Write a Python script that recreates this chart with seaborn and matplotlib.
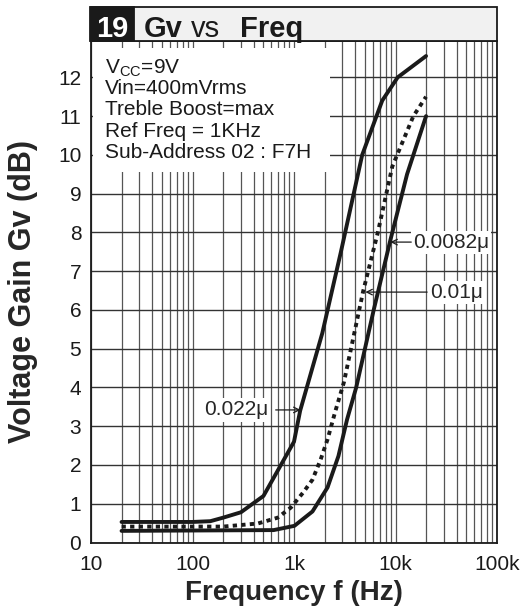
import numpy as np
import pandas as pd
import matplotlib
matplotlib.use('Agg')
import matplotlib.pyplot as plt
import seaborn as sns
from matplotlib.patches import Rectangle
from matplotlib.ticker import LogLocator, NullFormatter

# curve data (frequency in Hz, gain in dB)
freq_022 = [20, 100, 150, 200, 300, 500, 1000, 1150, 1900, 2900, 4700, 7400, 10500, 20000]
gain_022 = [0.53, 0.53, 0.55, 0.64, 0.78, 1.2, 2.6, 3.4, 5.4, 7.5, 10.0, 11.4, 12.0, 12.55]

freq_010 = [20, 200, 440, 690, 930, 1240, 1520, 1830, 2140, 2550, 3100, 4800, 6700, 9300, 15000, 20000]
gain_010 = [0.41, 0.41, 0.49, 0.64, 0.9, 1.3, 1.62, 2.14, 2.66, 3.38, 4.13, 6.48, 8.0, 9.7, 11.0, 11.5]

freq_0082 = [20, 630, 1010, 1520, 2140, 2740, 3330, 4100, 6100, 8900, 13000, 20000]
gain_0082 = [0.3, 0.32, 0.43, 0.8, 1.42, 2.23, 3.17, 4.0, 6.0, 7.8, 9.5, 11.0]

x_ticks = [10, 100, 1000, 10000, 100000]
x_tick_labels = ['10', '100', '1k', '10k', '100k']
y_ticks = list(range(13))

conditions = ['V$_{\\mathregular{CC}}$=9V', 'Vin=400mVrms', 'Treble Boost=max',
              'Ref Freq = 1KHz', 'Sub-Address 02 : F7H']

sns.set_style('white')
plt.rcParams['font.family'] = ['Liberation Sans', 'DejaVu Sans']
plt.rcParams['mathtext.fontset'] = 'custom'
plt.rcParams['mathtext.rm'] = 'Liberation Sans'

W, H = 523, 609
fig = plt.figure(figsize=(W / 100, H / 100), dpi=100)
ax = fig.add_axes([91 / W, (H - 542.5) / H, 406 / W, (542.5 - 41.3) / H])

df = pd.concat([
    pd.DataFrame({'f': freq_022, 'gv': gain_022, 'c': '0.022u'}),
    pd.DataFrame({'f': freq_010, 'gv': gain_010, 'c': '0.01u'}),
    pd.DataFrame({'f': freq_0082, 'gv': gain_0082, 'c': '0.0082u'}),
])

for name, ls in [('0.022u', '-'), ('0.0082u', '-'), ('0.01u', (0, (1.1, 1.1)))]:
    sub = df[df['c'] == name]
    sns.lineplot(data=sub, x='f', y='gv', ax=ax, color='#1a1a1a', lw=2.8,
                 linestyle=ls, sort=False, estimator=None, zorder=3)
for l in ax.lines:
    l.set_dash_capstyle('butt')
    l.set_solid_joinstyle('round')

ax.set_xscale('log')
ax.set_xlim(10, 100000)
ax.set_ylim(0, 12.93)
ax.set_xticks(x_ticks)
ax.set_xticklabels(x_tick_labels)
ax.xaxis.set_minor_locator(LogLocator(base=10, subs=range(2, 10)))
ax.xaxis.set_minor_formatter(NullFormatter())
ax.set_yticks(y_ticks)
ax.set_axisbelow(True)
ax.grid(which='both', axis='x', color='#555555', lw=0.9)
ax.grid(which='major', axis='y', color='#333333', lw=1.0)
ax.tick_params(which='both', length=0, labelsize=15, colors='#1a1a1a')
ax.tick_params(axis='x', pad=9)
ax.tick_params(axis='y', pad=7)
for s in ax.spines.values():
    s.set_color('#1a1a1a')
    s.set_linewidth(1.3)

ax.set_xlabel('Frequency f (Hz)', fontsize=20, fontweight='bold', labelpad=4)
ax.set_ylabel('Voltage Gain Gv (dB)', fontsize=22, fontweight='bold', labelpad=14)

# white panel behind the test conditions
ax.add_patch(Rectangle((2 / 406, (542.5 - 172) / 501.2), (330 - 93) / 406, 124 / 501.2,
                       transform=ax.transAxes, facecolor='white', edgecolor='none', zorder=1))
for i, t in enumerate(conditions):
    ax.text((105 - 91) / 406, (542.5 - (73 + 21.2 * i)) / 501.2, t, transform=ax.transAxes,
            fontsize=15, va='baseline', ha='left', color='#1a1a1a', zorder=4)

# curve labels
box = dict(facecolor='white', edgecolor='none', pad=1.5)
arrow = dict(arrowstyle='->', lw=0.9, color='#1a1a1a', shrinkA=0, shrinkB=0)
ax.text(555, 3.42, '0.022\u03bc', fontsize=15, ha='right', va='center', bbox=box, zorder=4)
ax.annotate('', xy=(1160, 3.42), xytext=(660, 3.42), arrowprops=arrow, zorder=4)
ax.text(14900, 7.75, '0.0082\u03bc', fontsize=15, ha='left', va='center', bbox=box, zorder=4,
        clip_on=False)
ax.annotate('', xy=(8900, 7.75), xytext=(14300, 7.75), arrowprops=arrow, zorder=4)
ax.text(22100, 6.46, '0.01\u03bc', fontsize=15, ha='left', va='center', bbox=box, zorder=4)
ax.annotate('', xy=(5050, 6.46), xytext=(20500, 6.46), arrowprops=arrow, zorder=4)

# title banner
fig.add_artist(Rectangle((91 / W, (H - 41.3) / H), 406 / W, 34.6 / H, transform=fig.transFigure,
                         facecolor='#f1f1f1', edgecolor='#1a1a1a', lw=1.3))
fig.add_artist(Rectangle((90 / W, (H - 41.3) / H), 44 / W, 34.6 / H, transform=fig.transFigure,
                         facecolor='#1a1a1a', edgecolor='#1a1a1a', lw=1.3))
base = (H - 37) / H
fig.text(112 / W, base, '19', color='white', fontsize=21, fontweight='bold', ha='center', va='baseline')
fig.text(163 / W, base, 'Gv', color='#1a1a1a', fontsize=21, fontweight='bold', ha='center', va='baseline')
fig.text(205 / W, base, 'vs', color='#1a1a1a', fontsize=21, ha='center', va='baseline')
fig.text(272 / W, base, 'Freq', color='#1a1a1a', fontsize=21, fontweight='bold', ha='center', va='baseline')

fig.savefig('out.png', dpi=100)
